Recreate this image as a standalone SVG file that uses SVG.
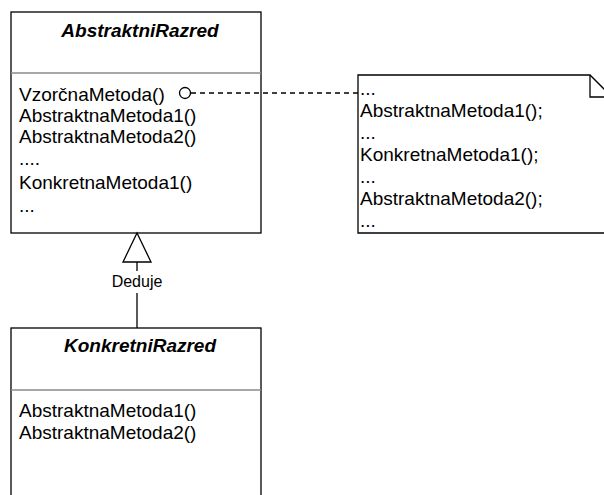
<svg xmlns="http://www.w3.org/2000/svg" width="604" height="495" viewBox="0 0 604 495">
  <style>
    .box { fill: #ffffff; stroke: #000000; stroke-width: 1.3; }
    .sep { stroke: #8a8a8a; stroke-width: 1.5; }
    .title { font-family: "Liberation Sans", Arial, sans-serif; font-size: 19px; font-weight: bold; font-style: italic; text-anchor: middle; fill: #000; }
    .txt { font-family: "Liberation Sans", Arial, sans-serif; font-size: 19px; fill: #000; }
    .lbl { font-family: "Liberation Sans", Arial, sans-serif; font-size: 16px; text-anchor: middle; fill: #000; }
    .line { fill: none; stroke: #000; stroke-width: 1.3; }
    .dash { fill: none; stroke: #000; stroke-width: 1.3; stroke-dasharray: 5 4; }
  </style>

  <!-- abstract class -->
  <g id="abstraktni-razred">
    <rect class="box" x="11" y="12" width="250" height="221"/>
    <line class="sep" x1="11" y1="73" x2="261" y2="73"/>
    <text class="title" x="140" y="37">AbstraktniRazred</text>
    <text class="txt" x="19" y="101">VzorčnaMetoda()</text>
    <text class="txt" x="19" y="122">AbstraktnaMetoda1()</text>
    <text class="txt" x="19" y="143">AbstraktnaMetoda2()</text>
    <text class="txt" x="19" y="165">....</text>
    <text class="txt" x="19" y="189">KonkretnaMetoda1()</text>
    <text class="txt" x="19" y="212">...</text>
  </g>

  <!-- concrete class -->
  <g id="konkretni-razred">
    <rect class="box" x="11" y="328" width="250" height="180"/>
    <line class="sep" x1="11" y1="390" x2="261" y2="390"/>
    <text class="title" x="140" y="352">KonkretniRazred</text>
    <text class="txt" x="19" y="417">AbstraktnaMetoda1()</text>
    <text class="txt" x="19" y="439">AbstraktnaMetoda2()</text>
  </g>

  <!-- note with folded corner -->
  <g id="opomba">
    <path class="box" d="M358,75 H590 L612,97 V233 H358 Z"/>
    <path class="line" d="M590,75 V97 H612"/>
    <text class="txt" x="360" y="95">...</text>
    <text class="txt" x="360" y="117">AbstraktnaMetoda1();</text>
    <text class="txt" x="360" y="139">...</text>
    <text class="txt" x="360" y="161">KonkretnaMetoda1();</text>
    <text class="txt" x="360" y="183">...</text>
    <text class="txt" x="360" y="205">AbstraktnaMetoda2();</text>
    <text class="txt" x="360" y="227">...</text>
  </g>

  <!-- connectors -->
  <g id="povezave">
    <line class="dash" x1="191" y1="93" x2="358" y2="93"/>
    <circle cx="185" cy="93" r="5.5" fill="#fff" stroke="#000" stroke-width="1.3"/>
    <line class="line" x1="137" y1="262" x2="137" y2="328"/>
    <polygon points="137,233 123,262 151,262" fill="#fff" stroke="#000" stroke-width="1.3"/>
    <rect x="108" y="271" width="58" height="22" fill="#fff"/>
    <text class="lbl" x="137" y="287">Deduje</text>
  </g>
</svg>
